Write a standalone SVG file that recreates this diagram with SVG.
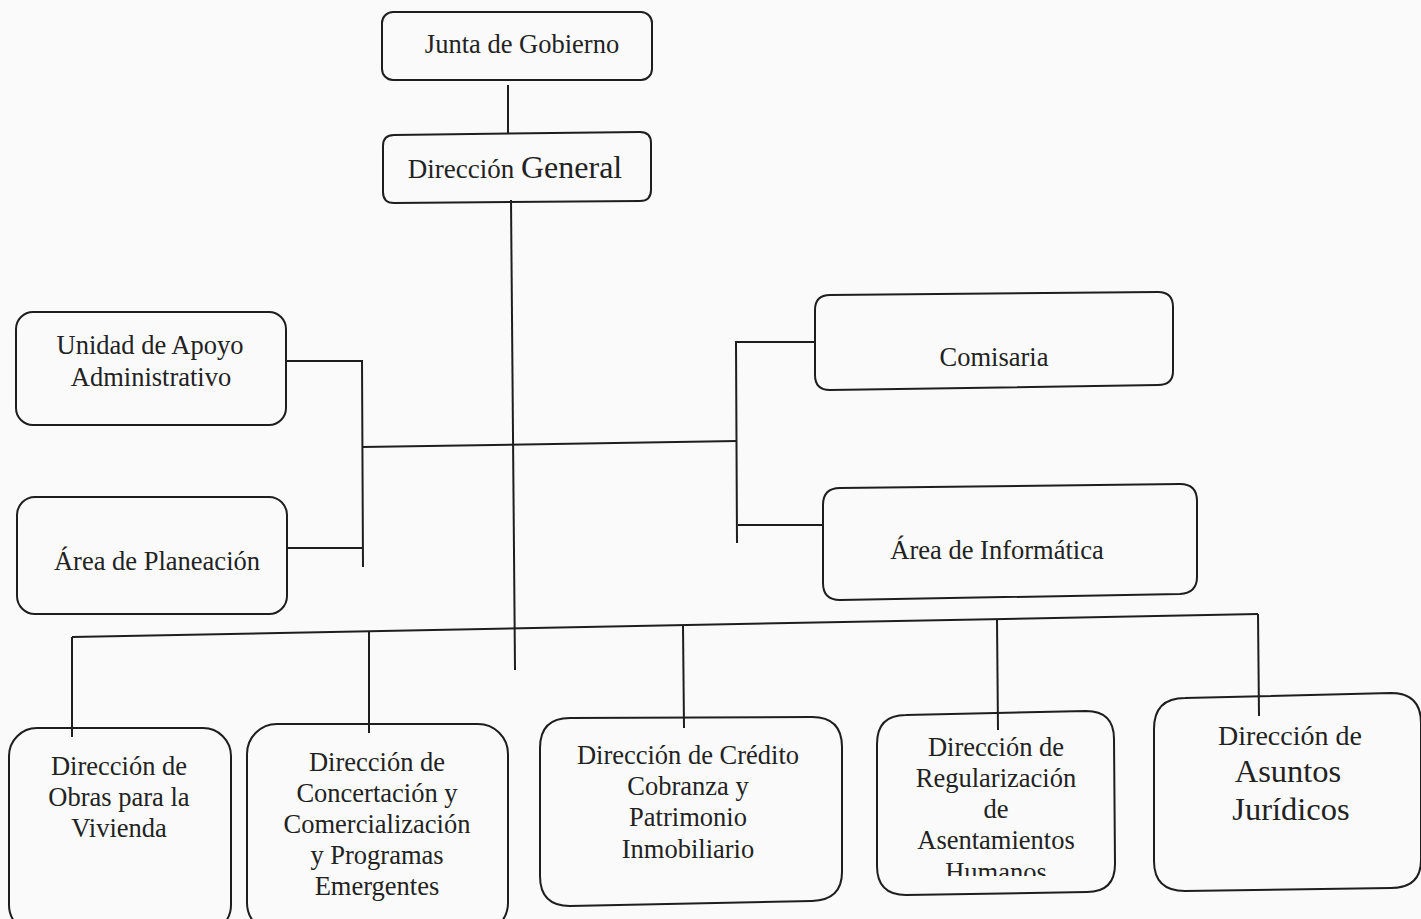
<svg xmlns="http://www.w3.org/2000/svg" width="1421" height="919" viewBox="0 0 1421 919">
<style>
.box{fill:none;stroke:#1e1e1e;stroke-width:2}
.ln{fill:none;stroke:#1e1e1e;stroke-width:2}
text{font-family:"Liberation Serif","Times New Roman",serif;fill:#222;text-anchor:middle;font-size:26.5px}
.s27{font-size:27px}
.s28{font-size:28px}
.s32{font-size:32px}
.s325{font-size:32.5px}
</style>
<defs>
<clipPath id="clipReg"><rect x="877" y="712" width="238" height="164"/></clipPath>
</defs>
<rect width="1421" height="919" fill="#fafafa"/>
<g id="connectors">
<line class="ln" x1="508" y1="85" x2="508" y2="134"/>
<line class="ln" x1="511" y1="200" x2="515" y2="670"/>
<polyline class="ln" points="286,361 362,361 363,567"/>
<line class="ln" x1="287" y1="548" x2="363" y2="548"/>
<line class="ln" x1="362" y1="447" x2="737" y2="441"/>
<polyline class="ln" points="815,342 736,342 737,543"/>
<line class="ln" x1="738" y1="525" x2="823" y2="525"/>
<line class="ln" x1="72" y1="637" x2="1258" y2="614"/>
<line class="ln" x1="72" y1="637" x2="72" y2="737"/>
<line class="ln" x1="369" y1="632" x2="369" y2="733"/>
<line class="ln" x1="683" y1="626" x2="684" y2="728"/>
<line class="ln" x1="997" y1="620" x2="998" y2="730"/>
<line class="ln" x1="1258" y1="614" x2="1259" y2="716"/>
</g>
<g id="junta">
<rect class="box" x="382" y="12" width="270" height="68" rx="11"/>
<text x="522" y="53">Junta de Gobierno</text>
</g>
<g id="direccion-general">
<path class="box" d="M394,135 L640,132 Q651,132 651,143 L651,190 Q651,201 640,201 L394,203 Q383,203 383,192 L383,146 Q383,135 394,135 Z"/>
<text x="515" y="178"><tspan class="s27">Dirección </tspan><tspan class="s32">General</tspan></text>
</g>
<g id="unidad-apoyo">
<rect class="box" x="16" y="312" width="270" height="113" rx="17"/>
<text x="150" y="354">Unidad de Apoyo</text>
<text x="151" y="386">Administrativo</text>
</g>
<g id="area-planeacion">
<rect class="box" x="17" y="497" width="270" height="117" rx="18"/>
<text x="157" y="570">Área de Planeación</text>
</g>
<g id="comisaria">
<path class="box" d="M830,295 L1158,292 Q1173,292 1173,307 L1173,371 Q1173,385 1158,385 L830,390 Q815,390 815,375 L815,310 Q815,295 830,295 Z"/>
<text x="994" y="366">Comisaria</text>
</g>
<g id="area-informatica">
<path class="box" d="M840,488 L1180,484 Q1197,484 1197,501 L1197,577 Q1197,593 1180,594 L840,600 Q823,600 823,583 L823,505 Q823,488 840,488 Z"/>
<text x="997" y="559">Área de Informática</text>
</g>
<g id="obras">
<rect class="box" x="9" y="728" width="222" height="205" rx="28"/>
<text x="119" y="775">Dirección de</text>
<text x="119" y="806">Obras para la</text>
<text x="119" y="837">Vivienda</text>
</g>
<g id="concertacion">
<rect class="box" x="247" y="724" width="261" height="209" rx="30"/>
<text x="377" y="771">Dirección de</text>
<text x="377" y="802">Concertación y</text>
<text x="377" y="833">Comercialización</text>
<text x="377" y="864">y Programas</text>
<text x="377" y="895">Emergentes</text>
</g>
<g id="credito">
<path class="box" d="M570,718 L812,717 Q842,717 842,747 L842,872 Q842,900 812,901 L570,906 Q540,906 540,876 L540,748 Q540,718 570,718 Z"/>
<text x="688" y="764">Dirección de Crédito</text>
<text x="688" y="795">Cobranza y</text>
<text x="688" y="826">Patrimonio</text>
<text x="688" y="858">Inmobiliario</text>
</g>
<g id="regularizacion">
<path class="box" d="M906,715 L1086,711 Q1114,711 1114,739 L1115,864 Q1115,892 1087,892 L906,895 Q877,895 877,866 L877,744 Q877,715 906,715 Z"/>
<text x="996" y="756">Dirección de</text>
<text x="996" y="787">Regularización</text>
<text x="996" y="818">de</text>
<text x="996" y="849">Asentamientos</text>
<text x="996" y="881" clip-path="url(#clipReg)">Humanos</text>
</g>
<g id="juridicos">
<path class="box" d="M1185,698 L1391,693 Q1421,693 1421,723 L1421,860 Q1421,888 1391,888 L1185,891 Q1154,891 1154,861 L1154,729 Q1154,698 1185,698 Z"/>
<text class="s28" x="1290" y="745">Dirección de</text>
<text class="s325" x="1288" y="782">Asuntos</text>
<text class="s325" x="1291" y="820">Jurídicos</text>
</g>
</svg>
